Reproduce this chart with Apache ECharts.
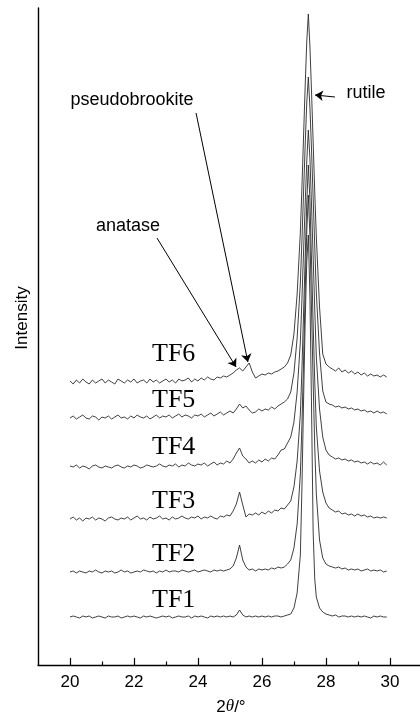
<!DOCTYPE html>
<html>
<head>
<meta charset="utf-8">
<script src="https://cdn.jsdelivr.net/npm/echarts@6/dist/echarts.min.js"></script>
<style>
html,body{margin:0;padding:0;background:#fff;}
#chart{width:420px;height:715px;}
</style>
</head>
<body>
<div id="chart"></div>
<script>
// 2theta positions (degrees)
const twoTheta = [
  20.0,20.1,20.2,20.3,20.4,20.5,20.6,20.7,20.8,20.9,
  21.0,21.1,21.2,21.3,21.4,21.5,21.6,21.7,21.8,21.9,
  22.0,22.1,22.2,22.3,22.4,22.5,22.6,22.7,22.8,22.9,
  23.0,23.1,23.2,23.3,23.4,23.5,23.6,23.7,23.8,23.9,
  24.0,24.1,24.2,24.3,24.4,24.5,24.6,24.7,24.8,24.9,
  25.0,25.1,25.2,25.3,25.4,25.5,25.6,25.7,25.8,25.9,
  26.0,26.1,26.2,26.3,26.4,26.5,26.6,26.7,26.8,
  26.9,27.0,27.1,27.2,27.25,27.3,27.35,27.4,27.45,27.5,27.55,27.6,27.65,27.7,27.8,27.9,
  28.0,28.1,28.2,28.3,28.4,28.5,28.6,28.7,28.8,28.9,
  29.0,29.1,29.2,29.3,29.4,29.5,29.6,29.7,29.8,29.9
];

const sampleNames = ['TF1','TF2','TF3','TF4','TF5','TF6'];
// vertical offsets of the stacked patterns (arbitrary intensity units)
const offsets = [48, 93, 146, 198, 247, 283];

const tf1 = [
  0,1,0,-1,1,0,1,-1,0,1, 0,-1,1,0,0,1,-1,0,1,0, 1,0,-1,1,0,1,0,-1,0,1, 0,1,-1,0,1,0,0,1,-1,1, 0,1,0,-1,1,0,1,0,1,0,
  1,0,2,7,2,0,1,0,1,0, 1,0,1,0,1,1,0,1,2,
  3,9,24,62,130,215,295,355,382,320,210,85,38,20,9,5,
  3,2,1,2,0,1,1,0,1,0, 1,0,1,0,-1,1,0,1,0,0
];
const tf2 = [
  0,1,-1,1,0,-1,1,0,2,0, -1,1,0,1,-1,0,2,0,1,-1, 0,1,0,2,1,0,1,-1,1,0, 2,0,1,1,0,2,1,0,1,2, 0,1,2,1,0,2,1,2,1,2,
  3,6,14,27,12,5,2,3,1,3, 2,3,2,4,3,5,4,5,8,
  12,24,48,98,148,210,280,340,377,335,262,190,125,78,32,14,
  8,6,5,4,5,3,4,2,3,2, 3,1,2,3,1,2,1,2,0,1
];
const tf3 = [
  0,2,-1,1,-2,1,0,2,-1,1, 0,-2,1,2,0,-1,1,0,2,-1, 1,3,0,1,-1,2,0,1,3,0, 1,-1,2,0,1,3,1,0,2,1, 3,0,2,1,3,1,0,3,2,4,
  3,8,15,27,14,2,5,4,6,4, 7,5,8,6,9,8,11,10,14,
  18,32,58,105,150,205,260,315,354,318,258,195,138,92,48,27,
  16,11,9,7,8,5,6,4,5,3, 5,3,4,2,3,1,2,1,2,1
];
const tf4 = [
  1,0,2,-1,1,0,-2,1,2,0, -1,1,0,-1,1,2,0,-1,1,0, 2,1,-1,0,2,1,0,1,3,1, 0,2,1,3,0,2,1,4,2,1, 3,2,4,1,3,5,2,4,3,6,
  4,8,14,19,11,8,4,6,4,7, 5,8,6,9,8,12,17,18,24,
  30,45,75,125,168,215,262,305,337,308,262,210,158,110,58,30,
  17,12,10,8,9,7,8,6,7,5, 6,4,5,3,5,3,4,2,5,2
];
const tf5 = [
  0,2,-1,1,3,0,-1,2,1,-2, 1,0,2,-1,1,3,0,1,-1,2, 0,3,1,0,2,-1,1,3,0,2, 1,3,0,2,4,1,3,2,0,3, 2,4,1,3,5,2,4,6,3,5,
  7,5,9,14,10,12,8,5,6,9, 7,9,8,11,9,12,14,16,19,
  26,45,80,135,178,225,272,315,341,310,268,220,172,125,65,27,
  16,14,13,11,12,10,11,9,10,8, 9,7,8,6,7,5,7,5,6,4
];
const tf6 = [
  1,-2,2,-1,3,0,-2,2,-1,1, 3,-1,2,0,-2,3,1,-1,2,0, 3,-1,1,2,-1,3,0,2,-1,1, 3,0,2,-1,3,1,2,4,0,3, 1,4,2,5,3,2,5,4,6,5,
  7,9,12,14,11,15,19,10,4,6, 8,7,9,8,10,11,13,15,19,
  27,48,88,150,195,245,295,340,368,335,290,240,190,145,75,28,
  18,15,13,11,14,10,12,9,11,8, 10,7,9,6,8,6,7,5,7,5
];
const patterns = [tf1, tf2, tf3, tf4, tf5, tf6];

const majorTicks = [20, 22, 24, 26, 28, 30];
const minorTicks = [21, 23, 25, 27, 29];

const chart = echarts.init(document.getElementById('chart'), null, {renderer: 'canvas'});

const lineColor = '#2a2a2a';
const series = sampleNames.map((name, k) => ({
  name: name,
  type: 'line',
  xAxisIndex: 0,
  yAxisIndex: 0,
  symbol: 'none',
  smooth: false,
  animation: false,
  lineStyle: {color: lineColor, width: 0.9},
  data: twoTheta.map((t, i) => [t, offsets[k] + patterns[k][i]])
}));

// annotation arrows (data coordinates)
series[5].markLine = {
  silent: true,
  animation: false,
  symbol: ['none', 'arrow'],
  symbolSize: 8,
  label: {show: false},
  lineStyle: {color: '#000', width: 1, type: 'solid'},
  emphasis: {disabled: true},
  data: [
    [{coord: [22.72, 427]}, {coord: [25.19, 298]}],
    [{coord: [23.94, 552]}, {coord: [25.56, 303]}],
    [{coord: [28.28, 568]}, {coord: [27.66, 570]}]
  ]
};

const sans = 'Liberation Sans, Arial, sans-serif';
const serif = 'Liberation Serif, Times New Roman, serif';

const labelPos = [[152, 600], [152, 554], [152, 501], [152, 447], [152, 400], [152, 354]];
const graphics = sampleNames.map((n, k) => ({
  type: 'text', x: labelPos[k][0], y: labelPos[k][1],
  style: {text: n, font: '26px ' + serif, fill: '#000', textAlign: 'left', textVerticalAlign: 'middle'}
}));
graphics.push(
  {type: 'text', x: 132, y: 100, style: {text: 'pseudobrookite', font: '18px ' + sans, fill: '#000', textAlign: 'center', textVerticalAlign: 'middle'}},
  {type: 'text', x: 128, y: 226, style: {text: 'anatase', font: '18px ' + sans, fill: '#000', textAlign: 'center', textVerticalAlign: 'middle'}},
  {type: 'text', x: 366, y: 93, style: {text: 'rutile', font: '18px ' + sans, fill: '#000', textAlign: 'center', textVerticalAlign: 'middle'}},
  {type: 'text', x: 22, y: 318, rotation: Math.PI / 2, style: {text: 'Intensity', font: '17px ' + sans, fill: '#000', textAlign: 'center', textVerticalAlign: 'middle'}},
  {type: 'text', x: 231, y: 707, style: {text: '2{i|θ}/°', font: '17px ' + sans, fill: '#000', textAlign: 'center', textVerticalAlign: 'middle',
    rich: {i: {fontStyle: 'italic', fontSize: 17, fontFamily: serif}}}}
);

chart.setOption({
  animation: false,
  backgroundColor: '#fff',
  grid: {left: 38, right: 0, top: 8, bottom: 50, containLabel: false},
  xAxis: [{
    type: 'value',
    min: 19, max: 30.94,
    position: 'bottom',
    axisLine: {show: true, onZero: false, lineStyle: {color: '#000', width: 1.4}},
    axisTick: {show: true, inside: true, length: 7, customValues: majorTicks, lineStyle: {color: '#000', width: 1.2}},
    axisLabel: {show: true, customValues: majorTicks, margin: 9, fontSize: 17, color: '#000', fontFamily: sans},
    splitLine: {show: false}
  }, {
    type: 'value',
    min: 19, max: 30.94,
    position: 'bottom',
    offset: 0,
    axisLine: {show: false, onZero: false},
    axisTick: {show: true, inside: true, length: 3.5, customValues: minorTicks, lineStyle: {color: '#000', width: 1.2}},
    axisLabel: {show: true, customValues: minorTicks, formatter: function () { return ''; }},
    splitLine: {show: false}
  }],
  yAxis: {
    type: 'value',
    min: 0, max: 657,
    axisLine: {show: true, onZero: false, lineStyle: {color: '#000', width: 1.4}},
    axisTick: {show: false},
    axisLabel: {show: false},
    splitLine: {show: false}
  },
  series: series,
  graphic: graphics
});
</script>
</body>
</html>
